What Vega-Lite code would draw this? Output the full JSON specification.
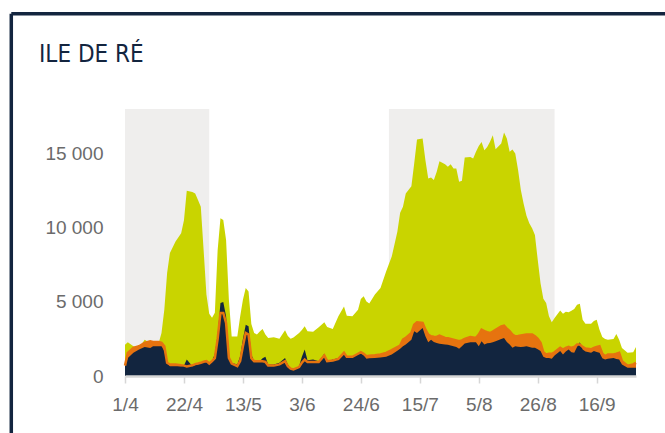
{
  "$schema": "https://vega.github.io/schema/vega-lite/v6.json",
  "width": 511,
  "height": 267,
  "autosize": {"type": "none"},
  "padding": {"left": 125, "top": 109, "right": 29, "bottom": 57},
  "background": "#ffffff",
  "config": {"view": {"stroke": null}},
  "title": {
    "text": "ILE DE RÉ",
    "anchor": "start",
    "frame": "group",
    "dx": -86,
    "offset": -74,
    "baseline": "alphabetic",
    "font": "DejaVu Sans Condensed, Liberation Sans Narrow, sans-serif",
    "fontSize": 24,
    "fontWeight": "normal",
    "color": "#13253f"
  },
  "datasets": {
    "periods": [
      {"start": "2023-04-01", "end": "2023-05-01"},
      {"start": "2023-07-04", "end": "2023-09-01"}
    ],
    "series": [
      {"d": "2023-04-01", "t": 2100, "o": 700, "n": 650},
      {"d": "2023-04-02", "t": 2270, "o": 1560, "n": 1220},
      {"d": "2023-04-04", "t": 2000, "o": 1900, "n": 1560},
      {"d": "2023-04-06", "t": 1890, "o": 2000, "n": 1780},
      {"d": "2023-04-08", "t": 2450, "o": 2230, "n": 1960},
      {"d": "2023-04-10", "t": 2230, "o": 2340, "n": 1890},
      {"d": "2023-04-11", "t": 2230, "o": 2300, "n": 2000},
      {"d": "2023-04-13", "t": 2230, "o": 2300, "n": 2000},
      {"d": "2023-04-14", "t": 2900, "o": 2230, "n": 2000},
      {"d": "2023-04-15", "t": 4470, "o": 2000, "n": 1680},
      {"d": "2023-04-16", "t": 6950, "o": 890, "n": 890},
      {"d": "2023-04-17", "t": 8300, "o": 770, "n": 660},
      {"d": "2023-04-19", "t": 9060, "o": 770, "n": 660},
      {"d": "2023-04-21", "t": 9620, "o": 720, "n": 660},
      {"d": "2023-04-22", "t": 10500, "o": 700, "n": 700},
      {"d": "2023-04-23", "t": 12490, "o": 650, "n": 1110},
      {"d": "2023-04-25", "t": 12400, "o": 720, "n": 660},
      {"d": "2023-04-26", "t": 12310, "o": 800, "n": 750},
      {"d": "2023-04-27", "t": 11860, "o": 840, "n": 770},
      {"d": "2023-04-28", "t": 11410, "o": 890, "n": 890},
      {"d": "2023-04-29", "t": 8500, "o": 960, "n": 1000},
      {"d": "2023-04-30", "t": 5500, "o": 1000, "n": 1060},
      {"d": "2023-05-01", "t": 4200, "o": 840, "n": 890},
      {"d": "2023-05-02", "t": 3930, "o": 1000, "n": 1000},
      {"d": "2023-05-03", "t": 4270, "o": 1200, "n": 1500},
      {"d": "2023-05-04", "t": 8500, "o": 2500, "n": 2800},
      {"d": "2023-05-05", "t": 10630, "o": 4250, "n": 4920},
      {"d": "2023-05-06", "t": 10520, "o": 4250, "n": 4990},
      {"d": "2023-05-07", "t": 9170, "o": 3580, "n": 4020},
      {"d": "2023-05-08", "t": 5140, "o": 1220, "n": 1330},
      {"d": "2023-05-09", "t": 2670, "o": 840, "n": 890},
      {"d": "2023-05-11", "t": 2670, "o": 660, "n": 780},
      {"d": "2023-05-12", "t": 4000, "o": 1000, "n": 1330},
      {"d": "2023-05-13", "t": 5140, "o": 2000, "n": 2500},
      {"d": "2023-05-14", "t": 5930, "o": 2900, "n": 3460},
      {"d": "2023-05-15", "t": 5700, "o": 2790, "n": 3350},
      {"d": "2023-05-16", "t": 3500, "o": 1200, "n": 1450},
      {"d": "2023-05-17", "t": 2900, "o": 1000, "n": 1000},
      {"d": "2023-05-18", "t": 2790, "o": 1000, "n": 1000},
      {"d": "2023-05-19", "t": 3000, "o": 1000, "n": 1000},
      {"d": "2023-05-20", "t": 3170, "o": 1000, "n": 1200},
      {"d": "2023-05-21", "t": 2800, "o": 950, "n": 1300},
      {"d": "2023-05-22", "t": 2570, "o": 700, "n": 780},
      {"d": "2023-05-24", "t": 2620, "o": 700, "n": 780},
      {"d": "2023-05-26", "t": 2510, "o": 780, "n": 890},
      {"d": "2023-05-28", "t": 3090, "o": 1000, "n": 1220},
      {"d": "2023-05-29", "t": 2700, "o": 660, "n": 780},
      {"d": "2023-05-30", "t": 2510, "o": 500, "n": 500},
      {"d": "2023-05-31", "t": 2600, "o": 440, "n": 440},
      {"d": "2023-06-02", "t": 2900, "o": 600, "n": 660},
      {"d": "2023-06-03", "t": 3100, "o": 900, "n": 1300},
      {"d": "2023-06-04", "t": 3350, "o": 1110, "n": 1780},
      {"d": "2023-06-05", "t": 3020, "o": 940, "n": 1060},
      {"d": "2023-06-07", "t": 2980, "o": 940, "n": 1110},
      {"d": "2023-06-09", "t": 3280, "o": 940, "n": 1000},
      {"d": "2023-06-11", "t": 3620, "o": 1380, "n": 1500},
      {"d": "2023-06-12", "t": 3300, "o": 1000, "n": 1000},
      {"d": "2023-06-14", "t": 3170, "o": 1050, "n": 1110},
      {"d": "2023-06-16", "t": 4020, "o": 1150, "n": 1220},
      {"d": "2023-06-18", "t": 4690, "o": 1560, "n": 1620},
      {"d": "2023-06-19", "t": 4060, "o": 1290, "n": 1270},
      {"d": "2023-06-21", "t": 4020, "o": 1290, "n": 1290},
      {"d": "2023-06-23", "t": 4470, "o": 1500, "n": 1450},
      {"d": "2023-06-24", "t": 5190, "o": 1600, "n": 1500},
      {"d": "2023-06-25", "t": 5370, "o": 1500, "n": 1400},
      {"d": "2023-06-26", "t": 5030, "o": 1330, "n": 1160},
      {"d": "2023-06-27", "t": 4880, "o": 1360, "n": 1200},
      {"d": "2023-06-29", "t": 5500, "o": 1400, "n": 1220},
      {"d": "2023-07-01", "t": 5930, "o": 1450, "n": 1250},
      {"d": "2023-07-03", "t": 7040, "o": 1560, "n": 1300},
      {"d": "2023-07-05", "t": 8050, "o": 1740, "n": 1450},
      {"d": "2023-07-07", "t": 9730, "o": 1950, "n": 1700},
      {"d": "2023-07-08", "t": 11000, "o": 2050, "n": 1830},
      {"d": "2023-07-09", "t": 11410, "o": 2450, "n": 2000},
      {"d": "2023-07-10", "t": 12310, "o": 2570, "n": 2120},
      {"d": "2023-07-12", "t": 12800, "o": 2900, "n": 2450},
      {"d": "2023-07-13", "t": 14330, "o": 3460, "n": 3020},
      {"d": "2023-07-14", "t": 15940, "o": 3620, "n": 2900},
      {"d": "2023-07-16", "t": 16010, "o": 3580, "n": 3240},
      {"d": "2023-07-17", "t": 14550, "o": 3120, "n": 2680},
      {"d": "2023-07-18", "t": 13320, "o": 2790, "n": 2280},
      {"d": "2023-07-19", "t": 13390, "o": 2680, "n": 2450},
      {"d": "2023-07-20", "t": 13210, "o": 2650, "n": 2300},
      {"d": "2023-07-21", "t": 13760, "o": 2630, "n": 2230},
      {"d": "2023-07-22", "t": 14480, "o": 2720, "n": 2170},
      {"d": "2023-07-24", "t": 14280, "o": 2570, "n": 2120},
      {"d": "2023-07-25", "t": 14100, "o": 2550, "n": 2100},
      {"d": "2023-07-26", "t": 14280, "o": 2500, "n": 2050},
      {"d": "2023-07-27", "t": 13990, "o": 2450, "n": 2000},
      {"d": "2023-07-28", "t": 13990, "o": 2400, "n": 1950},
      {"d": "2023-07-29", "t": 13090, "o": 2340, "n": 1830},
      {"d": "2023-07-30", "t": 13160, "o": 2400, "n": 2000},
      {"d": "2023-07-31", "t": 14730, "o": 2500, "n": 2190},
      {"d": "2023-08-02", "t": 14770, "o": 2630, "n": 2280},
      {"d": "2023-08-03", "t": 14660, "o": 2600, "n": 2280},
      {"d": "2023-08-04", "t": 15110, "o": 2570, "n": 2280},
      {"d": "2023-08-05", "t": 15500, "o": 2790, "n": 2000},
      {"d": "2023-08-06", "t": 15780, "o": 3120, "n": 2340},
      {"d": "2023-08-07", "t": 15220, "o": 3020, "n": 2120},
      {"d": "2023-08-08", "t": 15440, "o": 2950, "n": 2200},
      {"d": "2023-08-09", "t": 15800, "o": 2900, "n": 2230},
      {"d": "2023-08-10", "t": 16230, "o": 3000, "n": 2280},
      {"d": "2023-08-11", "t": 15290, "o": 3120, "n": 2340},
      {"d": "2023-08-13", "t": 15670, "o": 3350, "n": 2500},
      {"d": "2023-08-14", "t": 16410, "o": 3390, "n": 2570},
      {"d": "2023-08-15", "t": 16010, "o": 3200, "n": 2300},
      {"d": "2023-08-16", "t": 15110, "o": 3020, "n": 2120},
      {"d": "2023-08-17", "t": 15270, "o": 2790, "n": 1900},
      {"d": "2023-08-18", "t": 15000, "o": 2680, "n": 2000},
      {"d": "2023-08-19", "t": 13880, "o": 2700, "n": 1980},
      {"d": "2023-08-20", "t": 12530, "o": 2740, "n": 1960},
      {"d": "2023-08-21", "t": 11600, "o": 2770, "n": 1980},
      {"d": "2023-08-22", "t": 10800, "o": 2790, "n": 2000},
      {"d": "2023-08-23", "t": 10300, "o": 2790, "n": 1950},
      {"d": "2023-08-24", "t": 9960, "o": 2790, "n": 1900},
      {"d": "2023-08-25", "t": 9510, "o": 2680, "n": 1900},
      {"d": "2023-08-26", "t": 7830, "o": 2500, "n": 1800},
      {"d": "2023-08-27", "t": 6260, "o": 2230, "n": 1680},
      {"d": "2023-08-28", "t": 5200, "o": 1600, "n": 1300},
      {"d": "2023-08-29", "t": 4920, "o": 1450, "n": 1220},
      {"d": "2023-08-30", "t": 4020, "o": 1500, "n": 1220},
      {"d": "2023-08-31", "t": 3620, "o": 1500, "n": 1160},
      {"d": "2023-09-01", "t": 3910, "o": 1600, "n": 1380},
      {"d": "2023-09-03", "t": 4420, "o": 1900, "n": 1680},
      {"d": "2023-09-04", "t": 4200, "o": 1780, "n": 1450},
      {"d": "2023-09-05", "t": 4330, "o": 1900, "n": 1650},
      {"d": "2023-09-06", "t": 4290, "o": 1960, "n": 1780},
      {"d": "2023-09-07", "t": 4400, "o": 1900, "n": 1600},
      {"d": "2023-09-08", "t": 4510, "o": 1950, "n": 1560},
      {"d": "2023-09-09", "t": 4800, "o": 2120, "n": 1960},
      {"d": "2023-09-10", "t": 4870, "o": 2120, "n": 2280},
      {"d": "2023-09-11", "t": 3800, "o": 1960, "n": 1780},
      {"d": "2023-09-12", "t": 3530, "o": 1850, "n": 1650},
      {"d": "2023-09-14", "t": 3530, "o": 1800, "n": 1560},
      {"d": "2023-09-15", "t": 3700, "o": 1900, "n": 1680},
      {"d": "2023-09-16", "t": 3800, "o": 1950, "n": 1620},
      {"d": "2023-09-17", "t": 3120, "o": 2000, "n": 1560},
      {"d": "2023-09-18", "t": 2630, "o": 1500, "n": 1200},
      {"d": "2023-09-19", "t": 2500, "o": 1330, "n": 1110},
      {"d": "2023-09-20", "t": 2450, "o": 1450, "n": 1160},
      {"d": "2023-09-22", "t": 2490, "o": 1450, "n": 1220},
      {"d": "2023-09-23", "t": 2830, "o": 1500, "n": 1150},
      {"d": "2023-09-24", "t": 2450, "o": 1560, "n": 1110},
      {"d": "2023-09-25", "t": 1890, "o": 1000, "n": 780},
      {"d": "2023-09-27", "t": 1560, "o": 700, "n": 560},
      {"d": "2023-09-29", "t": 1600, "o": 780, "n": 560},
      {"d": "2023-09-30", "t": 1960, "o": 890, "n": 560}
    ]
  },
  "layer": [
    {
      "data": {"name": "periods"},
      "mark": {"type": "rect", "color": "#efeeed"},
      "encoding": {
        "x": {
          "field": "start",
          "type": "temporal",
          "scale": {
            "type": "utc",
            "domain": [
              {"year": 2023, "month": 4, "date": 1, "utc": true},
              {"year": 2023, "month": 9, "date": 30, "utc": true}
            ]
          },
          "axis": {
            "title": null,
            "values": [
              {"year": 2023, "month": 4, "date": 1, "utc": true},
              {"year": 2023, "month": 4, "date": 22, "utc": true},
              {"year": 2023, "month": 5, "date": 13, "utc": true},
              {"year": 2023, "month": 6, "date": 3, "utc": true},
              {"year": 2023, "month": 6, "date": 24, "utc": true},
              {"year": 2023, "month": 7, "date": 15, "utc": true},
              {"year": 2023, "month": 8, "date": 5, "utc": true},
              {"year": 2023, "month": 8, "date": 26, "utc": true},
              {"year": 2023, "month": 9, "date": 16, "utc": true}
            ],
            "labelExpr": "utcFormat(datum.value, '%-d/%-m')",
            "grid": false,
            "domainColor": "#d6d6d6",
            "domainWidth": 2.5,
            "tickColor": "#d6d6d6",
            "tickWidth": 1.5,
            "tickSize": 7,
            "labelPadding": 12,
            "labelFont": "Liberation Sans, Arial, sans-serif",
            "labelFontSize": 19,
            "labelColor": "#6b6b6b",
            "labelFlush": false,
            "labelOverlap": false,
            "zindex": 1
          }
        },
        "x2": {"field": "end"},
        "y": {
          "datum": 0,
          "type": "quantitative",
          "scale": {"domain": [0, 18000], "nice": false},
          "axis": {
            "title": null,
            "values": [0, 5000, 10000, 15000],
            "labelExpr": "replace(format(datum.value, ','), ',', ' ')",
            "grid": false,
            "domain": false,
            "ticks": false,
            "tickSize": 0,
            "labelPadding": 22,
            "labelFont": "Liberation Sans, Arial, sans-serif",
            "labelFontSize": 19,
            "labelColor": "#6b6b6b"
          }
        },
        "y2": {"datum": 18000}
      }
    },
    {
      "data": {"name": "series"},
      "mark": {"type": "area", "color": "#c9d400", "interpolate": "linear"},
      "encoding": {
        "x": {"field": "d", "type": "temporal"},
        "y": {"field": "t", "type": "quantitative"}
      }
    },
    {
      "data": {"name": "series"},
      "mark": {"type": "area", "color": "#e6730f", "interpolate": "linear"},
      "encoding": {
        "x": {"field": "d", "type": "temporal"},
        "y": {"field": "o", "type": "quantitative"}
      }
    },
    {
      "data": {"name": "series"},
      "mark": {"type": "area", "color": "#12253f", "interpolate": "linear"},
      "encoding": {
        "x": {"field": "d", "type": "temporal"},
        "y": {"field": "n", "type": "quantitative"}
      }
    },
    {
      "data": {"name": "series"},
      "mark": {"type": "line", "color": "#e6730f", "strokeWidth": 2.5, "interpolate": "linear"},
      "encoding": {
        "x": {"field": "d", "type": "temporal"},
        "y": {"field": "o", "type": "quantitative"}
      }
    },
    {
      "data": {"values": [{"k": 1}]},
      "mark": {"type": "rule", "color": "#13253f", "strokeWidth": 3.5, "clip": false},
      "encoding": {
        "x": {"datum": {"year": 2023, "month": 2, "date": 19, "hours": 12, "utc": true}, "type": "temporal"},
        "y": {"datum": 24420, "type": "quantitative"},
        "y2": {"datum": -4000}
      }
    },
    {
      "data": {"values": [{"k": 1}]},
      "mark": {"type": "rule", "color": "#13253f", "strokeWidth": 3.5, "clip": false},
      "encoding": {
        "x": {"datum": {"year": 2023, "month": 2, "date": 19, "hours": 12, "utc": true}, "type": "temporal"},
        "x2": {"datum": {"year": 2023, "month": 10, "date": 25, "utc": true}},
        "y": {"datum": 24420, "type": "quantitative"}
      }
    }
  ]
}
